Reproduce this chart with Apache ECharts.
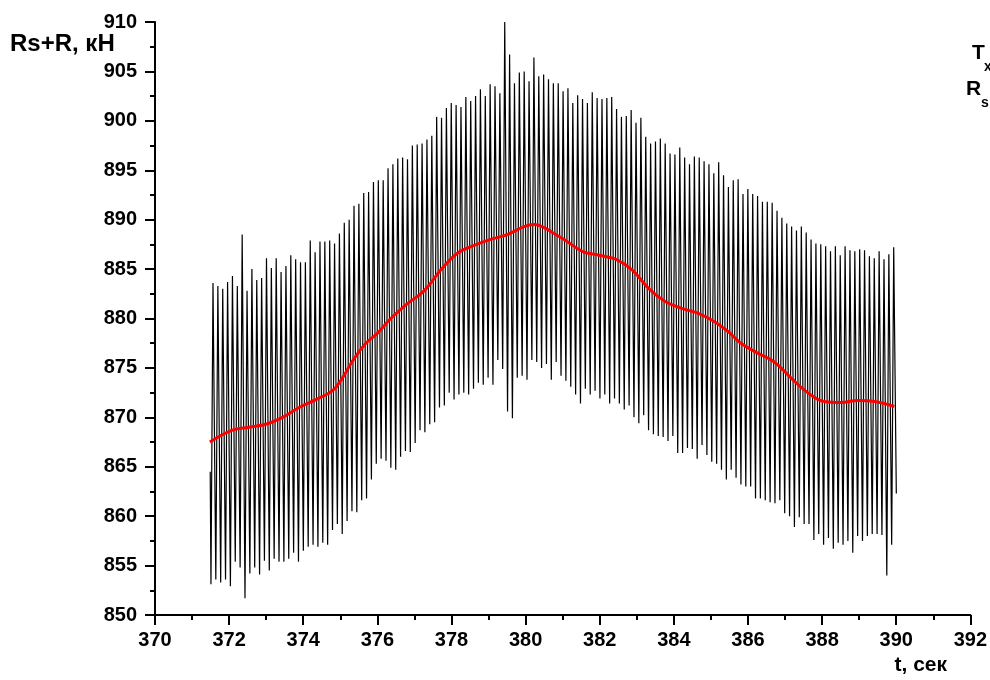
<!DOCTYPE html>
<html lang="ru">

<head>
    <meta charset="UTF-8">
    <title>Rs+R</title>
    <script src="https://cdn.jsdelivr.net/npm/echarts@6/dist/echarts.min.js"></script>
    <style>
        body { margin: 0; background: #fff; }
    </style>
</head>

<body>
    <div id="main" style="width: 990px;height:680px;"></div>
    <script type="text/javascript">

        // сигнал: начало, минимумы и максимумы каждого цикла, конец (кН)
        var startValue = 864.5
        var endValue = 862.3
        var troughs = [
            853.1, 853.6, 853.3, 853.6, 852.9, 855.4, 854.8, 851.7, 854.2, 854.8, 854.1, 855.5, 854.5, 855.7, 855.4, 855.4, 855.7, 856.3, 855.4, 856.5,
            856.9, 857.1, 856.9, 857.3, 857.1, 858.6, 859.2, 858.2, 859.5, 860.5, 860.4, 861.6, 861.8, 863.7, 865.3,
            865.8, 865.6, 864.9, 864.7, 866.0, 866.6, 866.5, 867.4, 868.7, 868.5, 869.3, 869.5, 871.0, 871.2, 872.5, 871.8, 872.3, 872.5,
            872.3, 872.9, 873.5, 873.3, 874.0, 873.3, 875.8, 874.9, 870.6, 869.9, 874.0, 874.2, 873.8, 875.8, 875.6, 875.0, 875.4, 873.8,
            875.6, 874.2, 873.7, 873.1, 872.3, 871.4, 872.9, 872.3, 872.7, 871.9, 872.3, 871.4, 871.9, 871.4, 870.8, 871.2, 870.0, 869.4,
            870.2, 868.7, 868.3, 868.1, 868.0, 867.6, 868.1, 866.4, 866.4, 866.9, 866.8, 865.8, 867.2, 866.2, 865.5, 865.3, 864.7, 863.7,
            864.7, 863.9, 863.2, 863.0, 863.0, 861.8, 861.8, 861.6, 861.4, 861.3, 861.6, 860.3, 860.0, 858.9, 859.9, 859.2, 859.2,
            857.6, 858.2, 857.1, 857.8, 856.7, 857.3, 857.1, 857.5, 856.3, 858.0, 857.5, 858.0, 858.2, 858.2, 858.1, 854.0, 857.1
        ]
        var peaks = [
            883.6, 883.3, 883.0, 883.7, 884.3, 883.3, 888.5, 882.8, 885.0, 883.9, 884.1, 886.1, 885.1, 886.1, 884.7, 885.3, 886.4, 886.0, 885.7, 885.7,
            887.9, 886.7, 887.8, 887.8, 887.9, 887.6, 888.6, 889.7, 890.0, 891.4, 891.6, 892.7, 892.8, 893.8, 894.0,
            894.0, 895.2, 895.6, 896.2, 896.3, 896.1, 897.5, 897.6, 897.7, 898.1, 898.5, 900.4, 900.3, 901.3, 901.8, 901.6, 901.4, 902.4,
            902.0, 902.5, 903.2, 902.5, 903.7, 903.5, 902.8, 910.0, 906.7, 903.8, 904.9, 905.0, 904.0, 906.4, 904.5, 904.7, 904.2, 903.8,
            903.8, 903.0, 903.3, 901.8, 902.6, 902.2, 901.8, 902.9, 902.3, 902.2, 902.3, 902.4, 901.2, 900.4, 900.5, 901.1, 899.8, 900.3,
            898.4, 897.7, 897.9, 898.2, 897.7, 896.7, 896.6, 897.3, 896.3, 895.6, 896.4, 896.3, 895.9, 895.6, 894.7, 895.8, 894.5, 893.3,
            894.0, 894.1, 892.6, 893.1, 892.6, 892.4, 891.8, 891.8, 891.7, 890.9, 890.2, 889.6, 889.3, 888.9, 889.3, 888.7, 888.0,
            887.6, 887.5, 887.3, 886.8, 887.3, 886.4, 887.3, 886.9, 886.8, 887.0, 886.9, 886.3, 886.1, 886.8, 886.0, 886.5, 887.2
        ]
        // время первого минимума, период колебаний и время подъёма (сек)
        var firstTrough = 371.51
        var period = 0.1312
        var riseTime = 0.055

        // сглаженная кривая
        var trendT = [371.48, 372.09, 372.54, 372.99, 373.44, 373.89, 374.34, 374.79, 375.06, 375.33, 375.69, 376.0,
            376.36, 376.81, 377.26, 377.71, 378.16, 378.61, 379.06, 379.51, 379.96, 380.23, 380.5, 380.77,
            381.08, 381.53, 381.98, 382.43, 382.88, 383.33, 383.78, 384.23, 384.68, 385.13, 385.49,
            385.81, 386.26, 386.71, 387.16, 387.61, 388.06, 388.51, 388.96, 389.41, 389.95]
        var trendV = [867.5, 868.7, 869.0, 869.3, 870.0, 871.0, 871.8, 872.7, 874.0, 875.7, 877.5, 878.5,
            880.0, 881.5, 882.8, 884.9, 886.6, 887.4, 888.0, 888.5, 889.3, 889.5, 889.2, 888.6,
            887.9, 886.8, 886.4, 886.0, 884.9, 883.0, 881.7, 881.0, 880.5, 879.6, 878.6,
            877.5, 876.5, 875.6, 874.0, 872.5, 871.6, 871.5, 871.7, 871.6, 871.1]

        var xTicks = [370, 372, 374, 376, 378, 380, 382, 384, 386, 388, 390, 392]
        var yTicks = [850, 855, 860, 865, 870, 875, 880, 885, 890, 895, 900, 905, 910]

        var signal = [[firstTrough - 0.02, startValue]]
        for (var i = 0; i < troughs.length; i++) {
            var t = firstTrough + i * period
            signal.push([t, troughs[i]])
            signal.push([t + riseTime, peaks[i]])
        }
        signal.push([signal[signal.length - 1][0] + 0.07, endValue])

        var trend = trendT.map(function (t, i) { return [t, trendV[i]] })

        var font = 'Liberation Sans, Arial, sans-serif'
        var chart = echarts.init(document.getElementById('main'), null, { renderer: 'canvas' })

        var option = {
            animation: false,
            backgroundColor: '#fff',
            grid: { left: 155, right: 19, top: 22, bottom: 65 },
            xAxis: {
                type: 'value',
                min: xTicks[0],
                max: xTicks[xTicks.length - 1],
                interval: xTicks[1] - xTicks[0],
                axisLine: { lineStyle: { color: '#000', width: 2 } },
                axisTick: { length: 10, lineStyle: { color: '#000', width: 2 } },
                minorTick: { show: true, splitNumber: 2, length: 5, lineStyle: { color: '#000', width: 2 } },
                splitLine: { show: false },
                axisLabel: { color: '#000', fontSize: 20, fontWeight: 'bold', fontFamily: font, margin: 15 }
            },
            yAxis: {
                type: 'value',
                min: yTicks[0],
                max: yTicks[yTicks.length - 1],
                interval: yTicks[1] - yTicks[0],
                axisLine: { show: true, lineStyle: { color: '#000', width: 2 } },
                axisTick: { show: true, length: 10, lineStyle: { color: '#000', width: 2 } },
                minorTick: { show: true, splitNumber: 2, length: 5, lineStyle: { color: '#000', width: 2 } },
                splitLine: { show: false },
                axisLabel: { color: '#000', fontSize: 20, fontWeight: 'bold', fontFamily: font, margin: 18 }
            },
            series: [
                {
                    type: 'line',
                    data: signal,
                    showSymbol: false,
                    sampling: null,
                    lineStyle: { color: '#000', width: 1.2 },
                    z: 2
                },
                {
                    type: 'line',
                    data: trend,
                    showSymbol: false,
                    smooth: 0.4,
                    lineStyle: { color: '#ff0000', width: 3 },
                    z: 3
                }
            ],
            graphic: [
                { type: 'text', left: 10, top: 32, style: { text: 'Rs+R, кН', font: 'bold 24px ' + font, fill: '#000' } },
                { type: 'text', right: 43, top: 655, style: { text: 't, сек', font: 'bold 21px ' + font, fill: '#000' } },
                { type: 'text', left: 972, top: 43, style: { text: 'T', font: 'bold 21px ' + font, fill: '#000' } },
                { type: 'text', left: 984, top: 60, style: { text: 'x', font: 'bold 14px ' + font, fill: '#000' } },
                { type: 'text', left: 966, top: 79, style: { text: 'R', font: 'bold 21px ' + font, fill: '#000' } },
                { type: 'text', left: 981, top: 96, style: { text: 's', font: 'bold 14px ' + font, fill: '#000' } }
            ]
        };

        chart.setOption(option);
    </script>
</body>

</html>
